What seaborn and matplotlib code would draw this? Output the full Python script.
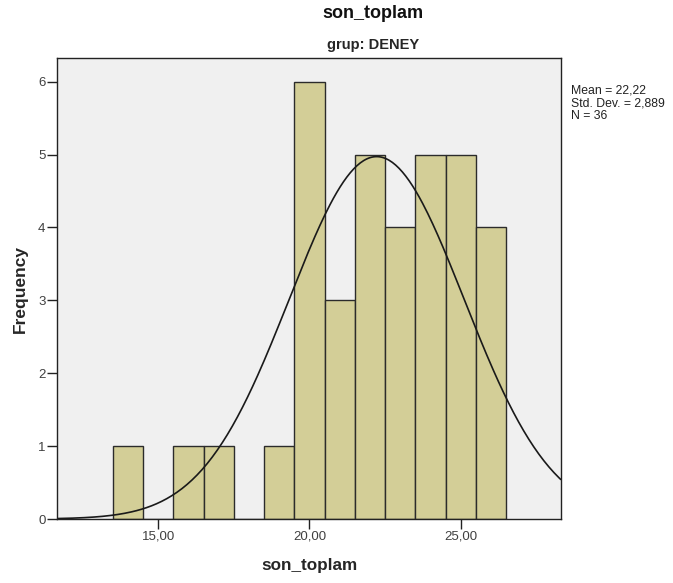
import numpy as np
import matplotlib
matplotlib.use("Agg")
import matplotlib.pyplot as plt
from matplotlib import font_manager
import seaborn as sns

# histogram of son_toplam, grup = DENEY (SPSS style)
bin_centers = [14, 15, 16, 17, 18, 19, 20, 21, 22, 23, 24, 25, 26]
counts = [1, 0, 1, 1, 0, 1, 6, 3, 5, 4, 5, 5, 4]
mean_val = 22.22
std_val = 2.889
n_val = 36
x_ticks = [15, 20, 25]
x_tick_labels = ["15,00", "20,00", "25,00"]
y_ticks = [0, 1, 2, 3, 4, 5, 6]
stats_lines = ["Mean = 22,22", "Std. Dev. = 2,889", "N = 36"]

sns.set_theme(style="white")
plt.rcParams["font.family"] = ["Liberation Sans", "DejaVu Sans"]

names = {f.name for f in font_manager.fontManager.ttflist}
narrow = "Liberation Sans Narrow" in names

W, H = 673, 583
fig = plt.figure(figsize=(W / 100, H / 100), dpi=100)
fig.patch.set_facecolor("white")
left, right, top, bottom = 57.3, 560.7, 58.3, 519.0
ax = fig.add_axes([left / W, 1 - bottom / H, (right - left) / W, (bottom - top) / H])
ax.set_facecolor("#F0F0F0")

sns.histplot(x=bin_centers, weights=counts, binwidth=1, binrange=(13.5, 26.5),
             color="#D3CE97", edgecolor="#2b2b2b", linewidth=1.0, alpha=1.0, ax=ax)

# normal curve scaled to counts
xs = np.linspace(11.67, 28.3, 300)
ys = n_val * 1.0 / (std_val * np.sqrt(2 * np.pi)) * np.exp(-0.5 * ((xs - mean_val) / std_val) ** 2)
sns.lineplot(x=xs, y=ys, color="#1a1a1a", linewidth=1.2, ax=ax)

ax.set_xlim(11.67, 28.3)
ax.set_ylim(0, 6.32)
ax.set_xticks(x_ticks)
ax.set_xticklabels(x_tick_labels)
ax.set_yticks(y_ticks)
ax.tick_params(axis="both", direction="out", length=7, width=1.0, color="#222222",
               labelsize=9.5, labelcolor="#404040", pad=1.5, left=True, bottom=True)
for s in ax.spines.values():
    s.set_color("#222222")
    s.set_linewidth(1.0)

ax.set_xlabel("son_toplam", fontsize=12.3, fontweight="bold", labelpad=11)
ax.set_ylabel("Frequency", fontsize=12.5, fontweight="bold", labelpad=7)

fig.text(373 / W, 1 - 13 / H, "son_toplam", ha="center", va="center",
         fontsize=13, fontweight="bold", color="#111111")
if narrow:
    fig.text(373.5 / W, 1 - 45 / H, "grup: DENEY", ha="center", va="center",
             fontsize=12.5, fontweight="bold", family="Liberation Sans Narrow")
else:
    fig.text(373.5 / W, 1 - 45 / H, "grup: DENEY", ha="center", va="center",
             fontsize=10.5, fontweight="bold")

for i, line in enumerate(stats_lines):
    fig.text(570.7 / W, 1 - (90.7 + 12.5 * i) / H, line, ha="left", va="center",
             fontsize=8.8, color="#222222")

plt.savefig("out.png", dpi=100)
